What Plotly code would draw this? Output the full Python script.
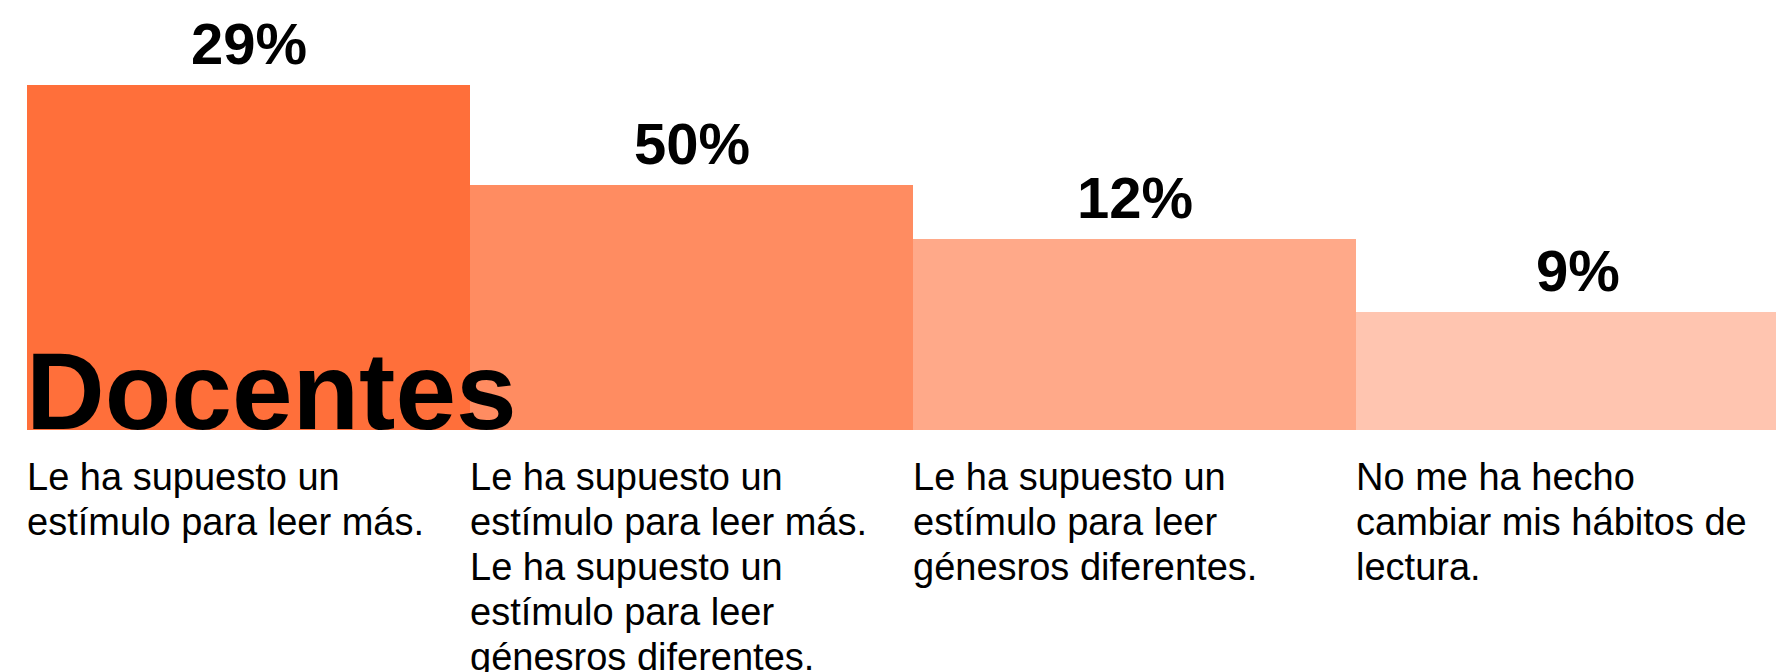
import plotly.graph_objects as go

# data
categories = [0, 1, 2, 3]
bar_heights = [100, 71.0, 55.4, 34.2]   # drawn height, relative to the first bar
pct_labels = ["29%", "50%", "12%", "9%"]
answer_labels = [
    "Le ha supuesto un<br>estímulo para leer más.",
    "Le ha supuesto un<br>estímulo para leer más.<br>Le ha supuesto un<br>estímulo para leer<br>génesros diferentes.",
    "Le ha supuesto un<br>estímulo para leer<br>génesros diferentes.",
    "No me ha hecho<br>cambiar mis hábitos de<br>lectura.",
]
title = "Docentes"

bar_colors = ["#FF6F3A", "#FF8C61", "#FFA989", "#FFC5B0"]
font = "Liberation Sans, Helvetica, Arial, sans-serif"

fig = go.Figure()
fig.add_trace(go.Bar(
    x=categories, y=bar_heights, width=1,
    marker=dict(color=bar_colors, line=dict(width=0)),
    hoverinfo="skip",
))

# percentage on top of every bar
for x, h, t in zip(categories, bar_heights, pct_labels):
    fig.add_annotation(x=x, y=h, text="<b>%s</b>" % t, showarrow=False,
                       xanchor="center", yanchor="bottom", yshift=7,
                       font=dict(family=font, size=58, color="black"))

# answer text below each bar, one annotation per line to get the tight leading
line_gap = 45
for x, lab in zip(categories, answer_labels):
    for k, line in enumerate(lab.split("<br>")):
        fig.add_annotation(x=x - 0.5, y=0, text=line, showarrow=False,
                           xanchor="left", yanchor="top", xshift=-2,
                           yshift=-24 - line_gap * k,
                           font=dict(family=font, size=38, color="black"))

fig.add_annotation(x=categories[0] - 0.5, y=0, text="<b>%s</b>" % title,
                   showarrow=False, xanchor="left", yanchor="bottom",
                   xshift=-3, yshift=-24,
                   font=dict(family=font, size=109, color="black"))

fig.update_layout(
    width=1776, height=664,
    margin=dict(l=19, r=0, t=0, b=242),
    plot_bgcolor="white", paper_bgcolor="white",
    showlegend=False, bargap=0,
    xaxis=dict(range=[-0.5, 3.466], visible=False, fixedrange=True),
    yaxis=dict(range=[0, 122.3], visible=False, fixedrange=True),
)

fig.write_html("out.html", config={"displayModeBar": False})
